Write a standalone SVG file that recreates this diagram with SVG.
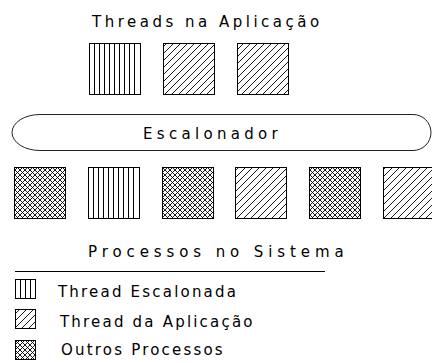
<svg xmlns="http://www.w3.org/2000/svg" width="432" height="363" viewBox="0 0 432 363">
<style>
text{font-family:"DejaVu Sans",sans-serif;font-size:15px;fill:#000}
.sp{letter-spacing:4.3px}
.lg{letter-spacing:2.2px}
.box{stroke:#000;stroke-width:1}
.vl{stroke:#000;stroke-width:1;fill:none}
</style>
<defs>
<path id="vlines" class="vl" d="M5,0V51M10,0V51M15,0V51M20,0V51M25,0V51M30,0V51M35,0V51M40,0V51M45,0V51"/>
<path id="vlines4" class="vl" d="M5,0V19M10,0V19M15,0V19"/>
<pattern id="diag" patternUnits="userSpaceOnUse" width="7" height="7">
<path d="M0,7 L7,0 M-1,1 L1,-1 M6,8 L8,6" stroke="#000" stroke-width="0.9"/>
</pattern>
<pattern id="cross" patternUnits="userSpaceOnUse" width="5" height="5">
<path d="M0,5 L5,0 M-1,1 L1,-1 M4,6 L6,4 M0,0 L5,5 M-1,4 L1,6 M4,-1 L6,1" stroke="#000" stroke-width="0.9"/>
</pattern>
</defs>
<text id="title" x="92" y="27" style="letter-spacing:3.5px">Threads na Aplicação</text>
<g id="app-threads">
<g id="t1">
<rect class="box" x="89.5" y="43.5" width="51" height="51" fill="#fff"/>
<use href="#vlines" x="89.5" y="43.5"/>
</g>
<rect id="t2" class="box" x="163.5" y="43.5" width="51" height="51" fill="url(#diag)"/>
<rect id="t3" class="box" x="237.5" y="43.5" width="51" height="51" fill="url(#diag)"/>
</g>
<g id="escalonador">
<path d="M40,114.5 H413 A18,18 0 0 1 413,150.5 H40 A28,18 0 0 1 40,114.5 Z" fill="none" stroke="#222" stroke-width="1"/>
<text class="sp" x="143" y="139">Escalonador</text>
</g>
<g id="processes">
<rect id="p1" class="box" x="14.5" y="167.5" width="51" height="51" fill="url(#cross)"/>
<g id="p2">
<rect class="box" x="88.5" y="167.5" width="51" height="51" fill="#fff"/>
<use href="#vlines" x="88.5" y="167.5"/>
</g>
<rect id="p3" class="box" x="162.5" y="167.5" width="51" height="51" fill="url(#cross)"/>
<rect id="p4" class="box" x="235.5" y="167.5" width="51" height="51" fill="url(#diag)"/>
<rect id="p5" class="box" x="309.5" y="167.5" width="51" height="51" fill="url(#cross)"/>
<rect id="p6" class="box" x="383.5" y="167.5" width="51" height="51" fill="url(#diag)"/>
</g>
<text id="subtitle" x="88" y="257" style="letter-spacing:4.9px">Processos no Sistema</text>
<g id="legend">
<line x1="15" y1="271.5" x2="325" y2="271.5" stroke="#000" stroke-width="1"/>
<rect class="box" x="15.5" y="279.5" width="20" height="19" fill="#fff"/>
<use href="#vlines4" x="15.5" y="279.5"/>
<rect class="box" x="15.5" y="309.5" width="20" height="19" fill="url(#diag)"/>
<rect class="box" x="15.5" y="340.5" width="20" height="19" fill="url(#cross)"/>
<text class="lg" x="58" y="297">Thread Escalonada</text>
<text class="lg" x="60" y="327">Thread da Aplicação</text>
<text class="lg" x="61" y="355">Outros Processos</text>
</g>
</svg>
